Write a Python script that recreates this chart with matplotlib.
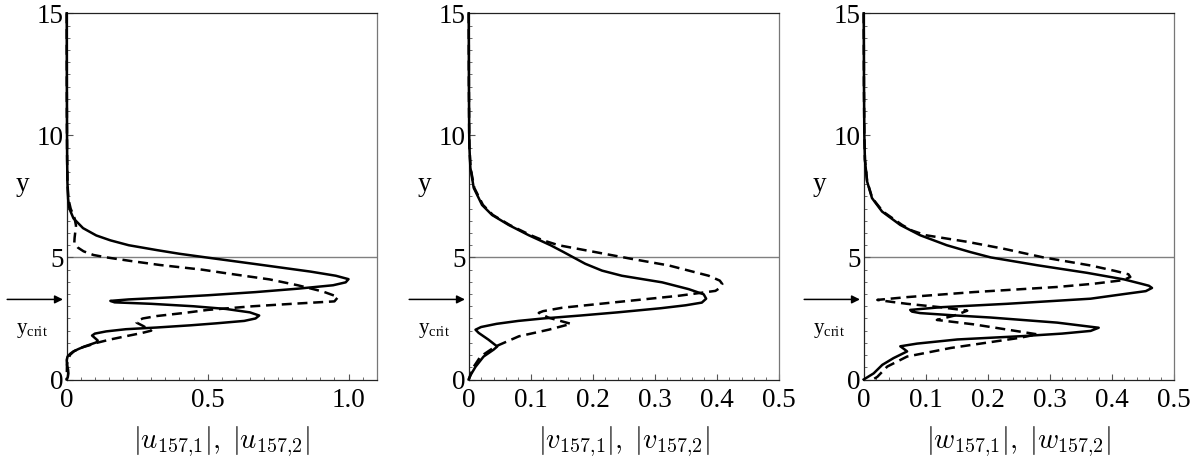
import matplotlib
matplotlib.use("Agg")
import matplotlib.pyplot as plt
import matplotlib.transforms as mtransforms
from matplotlib import ticker

plt.rcParams['font.family'] = 'Liberation Serif'
plt.rcParams['mathtext.fontset'] = 'cm'

# |u| profiles, mode 157 (solid: 1, dashed: 2)
u1_y = [15, 12, 10, 9, 8.1, 7.4, 7.0, 6.6, 6.2, 5.9, 5.7, 5.5, 5.3, 5.15, 5.0, 4.72, 4.42, 4.25, 4.11,
        3.98, 3.86, 3.72, 3.58, 3.45, 3.36, 3.28, 3.22, 3.16, 3.10, 3.0, 2.89, 2.75, 2.62, 2.5, 2.40,
        2.30, 2.22, 2.13, 2.06, 1.97, 1.88, 1.8, 1.7, 1.6, 1.52, 1.44, 1.36, 1.25, 1.15, 1.05, 0.94,
        0.8, 0.6, 0.4, 0.25, 0.1, 0]
u1_x = [0, 0.0004, 0.001, 0.0015, 0.0025, 0.005, 0.0095, 0.024, 0.058, 0.105, 0.155, 0.22, 0.32, 0.40,
        0.495, 0.675, 0.865, 0.955, 1.0, 0.99, 0.945, 0.82, 0.67, 0.50, 0.36, 0.22, 0.155, 0.17, 0.30,
        0.45, 0.565, 0.65, 0.683, 0.67, 0.63, 0.53, 0.44, 0.32, 0.21, 0.14, 0.10, 0.09, 0.10, 0.11,
        0.105, 0.085, 0.065, 0.042, 0.024, 0.012, 0.003, 0.0, 0.001, 0.005, 0.006, 0.004, 0]
u2_y = [15, 11, 9, 8, 7.4, 7.0, 6.6, 6.3, 6.0, 5.8, 5.6, 5.4, 5.25, 5.1, 5.0, 4.85, 4.69, 4.5, 4.35,
        4.1, 3.86, 3.6, 3.38, 3.2, 3.1, 3.0, 2.85, 2.73, 2.6, 2.5, 2.4, 2.33, 2.2, 2.0, 1.9, 1.78,
        1.64, 1.5, 1.4, 1.29, 1.15, 1.01, 0.8, 0.6, 0]
u2_x = [0, 0.0005, 0.0015, 0.003, 0.006, 0.014, 0.028, 0.033, 0.030, 0.028, 0.027, 0.04, 0.06, 0.095,
        0.142, 0.23, 0.331, 0.48, 0.567, 0.72, 0.82, 0.91, 0.963, 0.95, 0.80, 0.66, 0.50, 0.42, 0.32,
        0.27, 0.25, 0.248, 0.27, 0.30, 0.265, 0.213, 0.155, 0.106, 0.08, 0.047, 0.025, 0.012, 0.004,
        0.001, 0]

# |v| profiles
v1_y = [15, 12, 10, 9.5, 8.67, 7.85, 7.15, 6.74, 6.33, 5.91, 5.5, 5.22, 5.0, 4.74, 4.46, 4.25, 3.98,
        3.70, 3.49, 3.31, 3.15, 3.04, 2.92, 2.75, 2.62, 2.5, 2.4, 2.28, 2.15, 2.04, 1.91, 1.63, 1.35,
        1.22, 0.94, 0.52, 0.18, 0]
v1_x = [0, 0.0003, 0.0008, 0.0012, 0.0027, 0.0081, 0.0215, 0.0376, 0.0645, 0.0968, 0.132, 0.153,
        0.169, 0.188, 0.215, 0.247, 0.312, 0.355, 0.379, 0.383, 0.376, 0.35, 0.31, 0.24, 0.18, 0.12,
        0.08, 0.045, 0.02, 0.011, 0.016, 0.032, 0.046, 0.040, 0.024, 0.011, 0.003, 0]
v2_y = [15, 12, 10, 9.5, 8.67, 7.85, 7.15, 6.74, 6.33, 5.91, 5.7, 5.5, 5.22, 4.94, 4.67, 4.25, 4.05,
        3.91, 3.75, 3.63, 3.43, 3.15, 2.94, 2.8, 2.73, 2.53, 2.28, 2.04, 1.77, 1.35, 0.94, 0.52, 0]
v2_x = [0, 0.0003, 0.0008, 0.0012, 0.003, 0.009, 0.023, 0.039, 0.066, 0.10, 0.12, 0.145, 0.204, 0.263,
        0.323, 0.387, 0.405, 0.409, 0.405, 0.398, 0.339, 0.231, 0.151, 0.12, 0.113, 0.129, 0.165,
        0.129, 0.081, 0.043, 0.019, 0.008, 0]

# |w| profiles
w1_y = [15, 12, 10, 9, 8.12, 7.43, 6.88, 6.33, 5.91, 5.5, 5.22, 5.0, 4.68, 4.37, 4.1, 3.92, 3.84, 3.75,
        3.62, 3.5, 3.31, 3.10, 2.96, 2.85, 2.78, 2.72, 2.62, 2.54, 2.33, 2.12, 1.99, 1.88, 1.78, 1.64,
        1.47, 1.36, 1.25, 1.15, 1.0, 0.875, 0.6, 0.25, 0]
w1_x = [0, 0.0004, 0.001, 0.002, 0.0054, 0.0134, 0.0296, 0.059, 0.091, 0.134, 0.172, 0.205, 0.28, 0.36,
        0.42, 0.448, 0.46, 0.465, 0.455, 0.42, 0.366, 0.231, 0.124, 0.075, 0.078, 0.091, 0.15, 0.204,
        0.312, 0.379, 0.366, 0.32, 0.258, 0.151, 0.086, 0.059, 0.065, 0.07, 0.058, 0.048, 0.030, 0.016,
        0]
w2_y = [15, 12, 10, 9, 8.12, 7.43, 6.88, 6.33, 6.1, 5.91, 5.64, 5.36, 5.0, 4.67, 4.45, 4.31, 4.2, 4.07,
        3.92, 3.79, 3.58, 3.375, 3.26, 3.18, 3.10, 2.96, 2.82, 2.7, 2.61, 2.44, 2.26, 2.05, 1.85, 1.70,
        1.57, 1.29, 0.94, 0.53, 0.11, 0]
w2_x = [0, 0.0004, 0.001, 0.002, 0.0056, 0.0138, 0.031, 0.062, 0.078, 0.10, 0.167, 0.225, 0.29, 0.366,
        0.405, 0.427, 0.43, 0.419, 0.37, 0.312, 0.177, 0.070, 0.022, 0.045, 0.070, 0.124, 0.167, 0.155,
        0.145, 0.118, 0.177, 0.23, 0.28, 0.25, 0.215, 0.140, 0.070, 0.038, 0.022, 0.015]

y_crit = 3.28
y_line = 5.0

xlims = [1.1, 0.5, 0.5]
xmajor = [[0, 0.5, 1.0], [0, 0.1, 0.2, 0.3, 0.4, 0.5], [0, 0.1, 0.2, 0.3, 0.4, 0.5]]
xmajor_labels = [['0', '0.5', '1.0'],
                 ['0', '0.1', '0.2', '0.3', '0.4', '0.5'],
                 ['0', '0.1', '0.2', '0.3', '0.4', '0.5']]
xminor_step = [0.05, 0.02, 0.02]
xlabels = [r'$|u_{157{,}1}|,\;|u_{157{,}2}|$',
           r'$|v_{157{,}1}|,\;|v_{157{,}2}|$',
           r'$|w_{157{,}1}|,\;|w_{157{,}2}|$']
curves = [(u1_x, u1_y, u2_x, u2_y), (v1_x, v1_y, v2_x, v2_y), (w1_x, w1_y, w2_x, w2_y)]

W, H = 1191, 468
fig = plt.figure(figsize=(W / 100, H / 100), dpi=100)
lefts = [66.7, 468.7, 863.7]
ax_w, ax_top, ax_bot = 310, 13.3, 379.5

for k in range(3):
    ax = fig.add_axes([lefts[k] / W, 1 - ax_bot / H, ax_w / W, (ax_bot - ax_top) / H])
    xs1, ys1, xs2, ys2 = curves[k]

    ax.axhline(y_line, color='#808080', lw=1.0, zorder=1)
    ax.plot(xs1, ys1, color='black', lw=1.8, clip_on=False, zorder=3,
            solid_joinstyle='round')
    ax.plot(xs2, ys2, color='black', lw=1.8, dashes=(4.0, 2.3), clip_on=False, zorder=3)

    ax.set_xlim(0, xlims[k])
    ax.set_ylim(0, 15)
    ax.set_xticks(xmajor[k])
    ax.set_xticklabels(xmajor_labels[k])
    ax.xaxis.set_minor_locator(ticker.MultipleLocator(xminor_step[k]))
    ax.set_yticks([0, 5, 10, 15])
    ax.set_yticklabels(['0', '5', '10', '15'])
    ax.yaxis.set_minor_locator(ticker.MultipleLocator(0.5))
    ax.tick_params(which='both', direction='in', top=False, right=False, color='#555555')
    ax.tick_params(which='major', length=4, width=0.8, labelsize=19.5)
    ax.tick_params(which='minor', length=2, width=0.6)
    ax.tick_params(axis='x', which='major', pad=6)
    ax.tick_params(axis='y', which='major', pad=2)
    for side in ['left', 'bottom', 'top']:
        ax.spines[side].set_color('#222222')
        ax.spines[side].set_linewidth(0.9)
    ax.spines['right'].set_color('#777777')
    ax.spines['right'].set_linewidth(0.9)

    trans = mtransforms.blended_transform_factory(ax.transAxes, ax.transData)
    ax.text(-0.142, 8.0, 'y', transform=trans, ha='center', va='center', fontsize=19.5)
    ax.text(-0.165, 2.0, r'$\mathregular{y_{crit}}$', transform=trans, ha='left', va='center',
            fontsize=15)
    ax.annotate('', xy=(-0.012, y_crit), xytext=(-0.192, y_crit), xycoords=trans, textcoords=trans,
                arrowprops=dict(arrowstyle='-|>', color='black', lw=1.1, mutation_scale=12,
                                shrinkA=0, shrinkB=0),
                annotation_clip=False)
    ax.text(0.5, -0.17, xlabels[k], transform=ax.transAxes, ha='center', va='center', fontsize=20.5)

fig.savefig('out.png', dpi=100)
